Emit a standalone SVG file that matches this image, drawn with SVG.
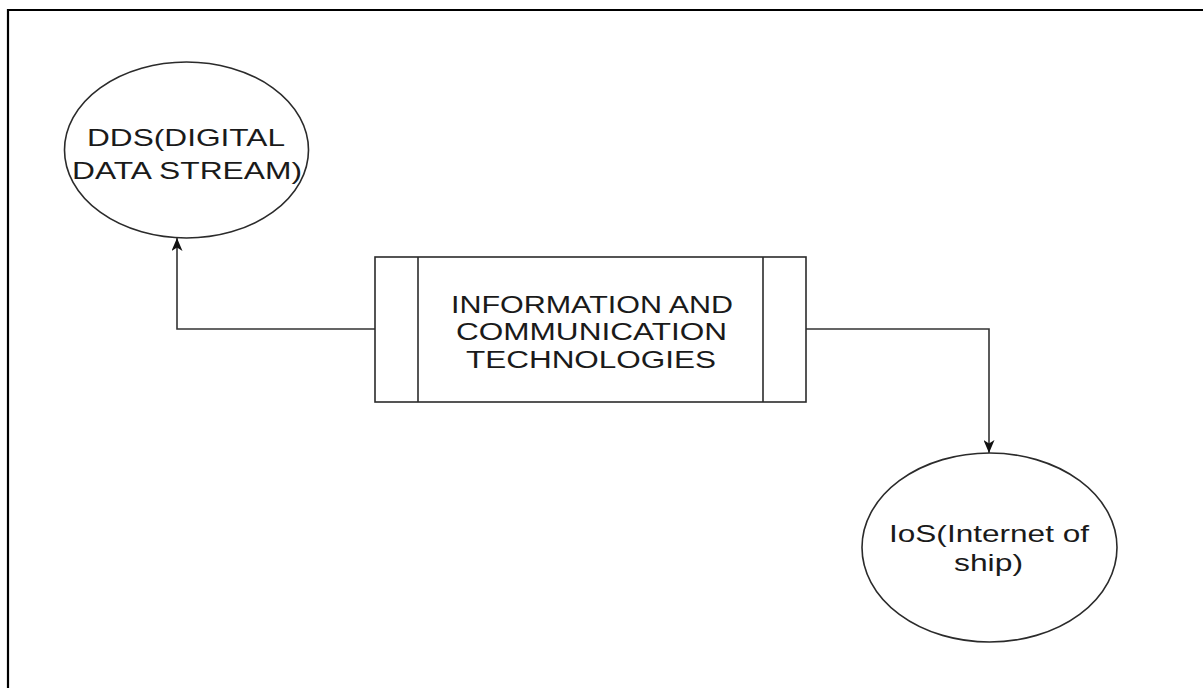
<svg xmlns="http://www.w3.org/2000/svg" width="1203" height="688" viewBox="0 0 1203 688">
<style>
.shape{fill:#ffffff;stroke:#2b2b2b;stroke-width:1.6}
.edge{fill:none;stroke:#333333;stroke-width:1.6}
.lbl{font-family:"Liberation Sans",Arial,sans-serif;font-size:24.5px;fill:#1a1a1a;text-anchor:middle}
</style>
<defs>
<marker id="arrow" viewBox="0 0 13 11" refX="13" refY="5.5" markerWidth="13" markerHeight="11" markerUnits="userSpaceOnUse" orient="auto">
<path d="M0,0 L13,5.5 L0,11 L3.5,5.5 Z" fill="#111111"/>
</marker>
</defs>
<rect x="0" y="0" width="1203" height="688" fill="#ffffff"/>
<path d="M8,700 L8,10 L1210,10" fill="none" stroke="#000000" stroke-width="2.2"/>
<g id="connectors">
<path class="edge" d="M375,329 L177,329 L177,238" marker-end="url(#arrow)"/>
<path class="edge" d="M806,329 L989,329 L989,453" marker-end="url(#arrow)"/>
</g>
<g id="node-dds">
<ellipse class="shape" cx="186.5" cy="150" rx="122" ry="88"/>
<text class="lbl" x="186" y="145.5" textLength="198" lengthAdjust="spacingAndGlyphs">DDS(DIGITAL</text>
<text class="lbl" x="187" y="178.5" textLength="230" lengthAdjust="spacingAndGlyphs">DATA STREAM)</text>
</g>
<g id="node-ict">
<rect class="shape" x="375" y="257" width="431" height="145"/>
<line class="shape" x1="418" y1="257" x2="418" y2="402"/>
<line class="shape" x1="763" y1="257" x2="763" y2="402"/>
<text class="lbl" x="592" y="312.5" textLength="282" lengthAdjust="spacingAndGlyphs">INFORMATION AND</text>
<text class="lbl" x="591.5" y="340" textLength="271" lengthAdjust="spacingAndGlyphs">COMMUNICATION</text>
<text class="lbl" x="591" y="367.5" textLength="250" lengthAdjust="spacingAndGlyphs">TECHNOLOGIES</text>
</g>
<g id="node-ios">
<ellipse class="shape" cx="989.5" cy="547.5" rx="127.5" ry="94.5"/>
<text class="lbl" x="989" y="541.5" textLength="200" lengthAdjust="spacingAndGlyphs">IoS(Internet of</text>
<text class="lbl" x="988.5" y="570.5" textLength="69" lengthAdjust="spacingAndGlyphs">ship)</text>
</g>
</svg>
